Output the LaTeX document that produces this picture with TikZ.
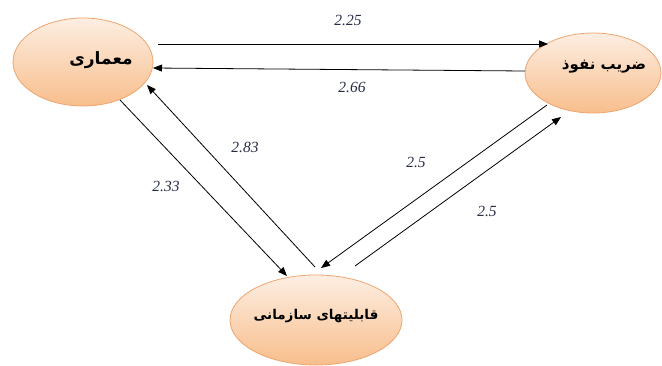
\documentclass[tikz,border=0pt]{standalone}
\usepackage{fontspec}
\setmainfont{Liberation Serif}
\newfontfamily\arabicfont[Script=Arabic]{DejaVu Sans}
\TeXXeTstate=1
\usetikzlibrary{arrows.meta,calc,shapes.geometric}
\definecolor{ptop}{RGB}{253,238,226}
\definecolor{pbot}{RGB}{248,190,140}
\definecolor{pedge}{RGB}{238,165,112}
\definecolor{numcol}{RGB}{40,45,70}
\tikzset{
  bubble/.style={ellipse, draw=pedge, line width=0.8pt, top color=ptop, bottom color=pbot, inner sep=0pt},
  fatext/.style={font=\arabicfont\bfseries\fontsize{17}{19}\selectfont, text=black},
  arr/.style={line width=0.8pt, -{Triangle[length=9pt,width=7pt]}},
  num/.style={font=\itshape\fontsize{15.5}{17}\selectfont, text=numcol}
}
\begin{document}
\begin{tikzpicture}[x=1pt,y=-1pt]
\useasboundingbox (0,0) rectangle (662,365);
% ellipses
\node[bubble, minimum width=140pt, minimum height=88pt] (e1) at (83,62) {};
\node[bubble, minimum width=136pt, minimum height=80pt] (e2) at (593,73) {};
\node[bubble, minimum width=172pt, minimum height=90pt] (e3) at (316,320) {};
% texts
\node[fatext] (t1) at ($(e1.center)+(18,-2)$) {\beginR معماری\endR};
\node[fatext, font=\arabicfont\bfseries\fontsize{15}{17}\selectfont] (t2) at ($(e2.center)+(11,-6)$) {\beginR ضریب نفوذ\endR};
\node[fatext, font=\arabicfont\bfseries\fontsize{13.5}{16}\selectfont] (t3) at ($(e3.center)+(0,-4)$) {\beginR قابلیتهای سازمانی\endR};
% connectors
\draw[arr] ($(e1.center)+(75,-18)$) -- ($(e2.center)+(-45,-29)$);
\draw[arr] ($(e2.center)+(-68,-2)$) -- ($(e1.center)+(70,6)$);
\draw[arr] ($(e1.center)+(37,38)$) -- ($(e3.center)+(-29,-44)$);
\draw[arr] ($(e3.center)+(-1,-53)$) -- ($(e1.center)+(64,23)$);
\draw[arr] ($(e2.center)+(-46,32)$) -- ($(e3.center)+(5,-52)$);
\draw[arr] ($(e3.center)+(39,-54)$) -- ($(e2.center)+(-32,44)$);
% labels
\node[num] (l1) at (348,20) {2.25};
\node[num] (l2) at (352,87) {2.66};
\node[num] (l3) at (166,186) {2.33};
\node[num] (l4) at (245,147) {2.83};
\node[num] (l5) at (416,162) {2.5};
\node[num] (l6) at (487,211) {2.5};
\end{tikzpicture}
\end{document}
